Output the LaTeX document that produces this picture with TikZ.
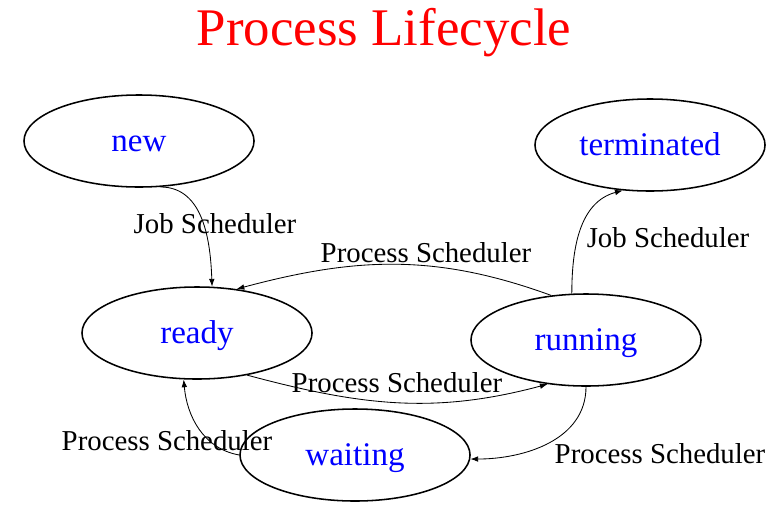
\documentclass[tikz,border=0pt]{standalone}
\usepackage{fontspec}
\setmainfont{Liberation Serif}
\usetikzlibrary{shapes.geometric,arrows.meta}

\begin{document}
\begin{tikzpicture}[x=0.025cm,y=-0.025cm,
    state/.style={draw, ellipse, line width=1.1pt, minimum width=5.75cm, minimum height=2.3cm, inner sep=0pt, text height=15.6pt, text depth=0pt, text=blue, font=\fontsize{23.5}{28}\selectfont},
    sched/.style={anchor=base, font=\fontsize{20.5}{24}\selectfont},
    trans/.style={line width=0.6pt, -{Latex[length=5.5pt,width=4pt]}}]
    \useasboundingbox (0,0) rectangle (780,514);
    \node[anchor=base, text=red, font=\fontsize{37.6}{44}\selectfont] (title) at (384,45) {Process Lifecycle};
    \node[state] (new) at (139,141) {new};
    \node[state] (terminated) at (650,145) {terminated};
    \node[state] (ready) at (197,333) {ready};
    \node[state] (running) at (586,340) {running};
    \node[state] (waiting) at (355,455) {waiting};
    \node[sched] (js1) at (215,233) {Job Scheduler};
    \node[sched] (ps1) at (426,262) {Process Scheduler};
    \node[sched] (ps2) at (397,392) {Process Scheduler};
    \node[sched] (ps3) at (167,450) {Process Scheduler};
    \node[sched] (ps4) at (660,463) {Process Scheduler};
    \node[sched] (js2) at (668,247) {Job Scheduler};
    \draw[trans] (new.-65) to[out=0, in=92] (ready.72);
    \draw[trans] (running.128) to[out=160, in=15] (ready.48);
    \draw[trans] (ready.-40) to[out=-15, in=-165] (running.-131);
    \draw[trans] (running.-90) to[out=-90, in=0] (waiting.-2);
    \draw[trans] (waiting.180) to[out=170, in=-85] (ready.-106);
    \draw[trans] (running.107) to[out=90, in=195] (terminated.-121);
\end{tikzpicture}
\end{document}
